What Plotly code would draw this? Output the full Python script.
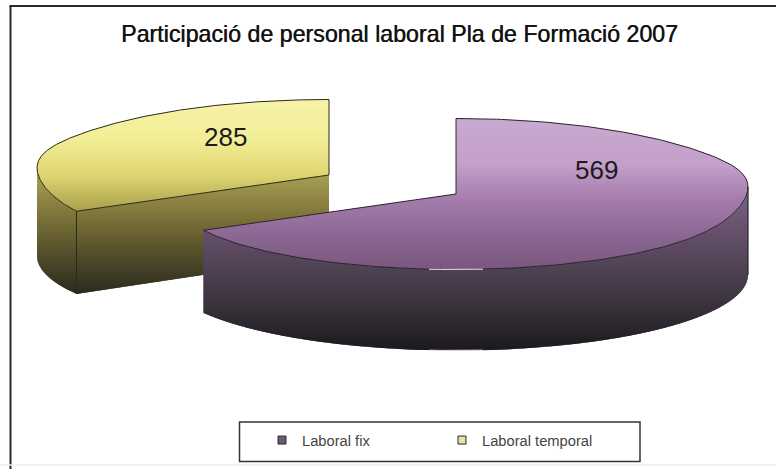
import numpy as np
import plotly.graph_objects as go

# ---- data ----
categories = ["Laboral fix", "Laboral temporal"]
values = [569, 285]
title_text = "Participació de personal laboral Pla de Formació 2007"

# ---- geometry / style (layout constants only) ----
W, H = 776, 469
RX, RY, DEPTH, BUMP = 292, 75.5, 81, 7
APEX = {"Laboral fix": (456, 194), "Laboral temporal": (329, 175)}
LABEL_POS = {"Laboral fix": (596, 170), "Laboral temporal": (225, 137)}
OUTLINE = {"Laboral fix": "#2e2230", "Laboral temporal": "#2b2a18"}
SWATCH = {"Laboral fix": "#6b5a70", "Laboral temporal": "#e6e2a8"}
TOP_STOPS = {
    "Laboral fix": ([118, 165, 200, 235, 269],
                    [(200, 170, 208), (196, 160, 202), (164, 124, 172), (140, 104, 148), (122, 88, 126)]),
    "Laboral temporal": ([98, 140, 175, 212],
                         [(247, 243, 170), (242, 238, 150), (222, 214, 112), (168, 158, 76)]),
}
SIDE_STOPS = {
    "Laboral fix": ([187, 232, 270, 310, 350],
                    [(124, 104, 132), (102, 80, 108), (78, 66, 82), (54, 48, 56), (28, 26, 30)]),
    "Laboral temporal": ([170, 212, 250, 295],
                         [(170, 164, 88), (130, 120, 60), (88, 82, 44), (40, 42, 30)]),
}


def rim(apex, deg, lifted=True):
    t = np.radians(deg)
    x = apex[0] + RX * np.sin(t)
    y = apex[1] - RY * np.cos(t)
    if lifted:
        y = y - BUMP * np.abs(np.sin(t)) ** 10
    return x, y


def clip(pts, y, keep_below):
    """Clip a polygon against a horizontal line."""
    out = []
    inside = (lambda p: p[1] >= y) if keep_below else (lambda p: p[1] <= y)
    for i, p in enumerate(pts):
        q = pts[(i + 1) % len(pts)]
        if inside(p):
            out.append(p)
        if inside(p) != inside(q):
            f = (y - p[1]) / (q[1] - p[1])
            out.append((p[0] + f * (q[0] - p[0]), y))
    return out


def gradient_traces(px, py, stops, step=2):
    out = []
    ys, cols = stops
    cols = np.array(cols, float)
    pts = list(zip(px, py))
    for y in np.arange(np.floor(min(py)), np.ceil(max(py)) + 1, step):
        band = clip(clip(pts, y, True), y + step + 1.5, False)
        if len(band) < 3:
            continue
        c = [int(np.interp(y + step / 2, ys, cols[:, k])) for k in range(3)]
        color = f"rgb({c[0]},{c[1]},{c[2]})"
        out.append(go.Scatter(x=[b[0] for b in band] + [band[0][0]], y=[b[1] for b in band] + [band[0][1]],
                              mode="lines", fill="toself", fillcolor=color, showlegend=False,
                              hoverinfo="skip", line=dict(width=0)))
    return out


def line(xs, ys, color, width=1.0):
    return go.Scatter(x=list(xs), y=list(ys), mode="lines", showlegend=False, hoverinfo="skip",
                      line=dict(color=color, width=width))


total = sum(values)
angles = np.cumsum([0] + values) / total * 360
slices = {c: (angles[i], angles[i + 1]) for i, c in enumerate(categories)}

fig = go.Figure()
labels = []

# draw back slice first
for cat in ["Laboral temporal", "Laboral fix"]:
    a0, a1 = slices[cat]
    ax, ay = APEX[cat]
    col = OUTLINE[cat]
    th = np.linspace(a0, a1, 241)
    tx, ty = rim((ax, ay), th)

    # front-facing walls
    if cat == "Laboral fix":
        wall_th = np.linspace(90, a1, 120)
        wx, wy = rim((ax, ay), wall_th)
        bx, by = rim((ax, ay + DEPTH), wall_th, lifted=False)
        px = list(wx) + list(bx[::-1])
        py = list(wy) + list(by[::-1])
        for tr in gradient_traces(px, py, SIDE_STOPS[cat]):
            fig.add_trace(tr)
    else:
        # cut face (apex to corner) and outer wall
        cx, cy = rim((ax, ay), a0)
        cbx, cby = rim((ax, ay + DEPTH), a0, lifted=False)
        px = [ax, cx, cbx, ax]
        py = [ay, cy, cby, ay + DEPTH]
        for tr in gradient_traces(px, py, SIDE_STOPS[cat]):
            fig.add_trace(tr)
        wall_th = np.linspace(a0, 270, 40)
        wx, wy = rim((ax, ay), wall_th)
        bx, by = rim((ax, ay + DEPTH), wall_th, lifted=False)
        px = list(wx) + list(bx[::-1])
        py = list(wy) + list(by[::-1])
        for tr in gradient_traces(px, py, SIDE_STOPS[cat]):
            fig.add_trace(tr)
        fig.add_trace(line([cx, cbx], [cy, cby], col))

    # top face
    px = [ax] + list(tx)
    py = [ay] + list(ty)
    for tr in gradient_traces(px, py, TOP_STOPS[cat]):
        fig.add_trace(tr)

    # outlines of the top face
    fig.add_trace(line(list(tx) + [ax, tx[0]], list(ty) + [ay, ty[0]], col))

    if cat == "Laboral fix":
        rx_, ry_ = rim((ax, ay), 90)
        bx_, by_ = rim((ax, ay + DEPTH), 90, lifted=False)
        fig.add_trace(line([rx_, bx_], [ry_, by_], "#2a2430", 1.2))
        # small highlights on the rim and on the base
        hl = np.linspace(174.7, 185.3, 20)
        for dy in (0, DEPTH):
            hx, hy = rim((ax, ay + dy), hl, lifted=False)
            fig.add_trace(line(hx, hy, "#f4eef4", 1.0))
    labels.append(dict(x=LABEL_POS[cat][0], y=LABEL_POS[cat][1], text=str(values[categories.index(cat)]),
                       showarrow=False, font=dict(family="Liberation Sans", size=26, color="#1c1a1c")))

# legend entries (real legend)
for cat in categories:
    fig.add_trace(go.Scatter(x=[None], y=[None], mode="markers", name=cat,
                             marker=dict(symbol="square", size=8, color=SWATCH[cat],
                                         line=dict(color="#2a2a2a", width=1))))

fig.update_layout(
    width=W, height=H, margin=dict(l=0, r=0, t=0, b=0),
    paper_bgcolor="white", plot_bgcolor="white",
    xaxis=dict(range=[0, W], visible=False, fixedrange=True),
    yaxis=dict(range=[H, 0], visible=False, fixedrange=True),
    annotations=labels + [
        dict(x=399, y=34, text=title_text, showarrow=False,
             font=dict(family="Liberation Sans", size=23.2, color="#111111",
                       shadow="0.5px 0 0.3px #333333")),
    ],
    shapes=[
        dict(type="line", x0=9.5, x1=W, y0=6, y1=6, line=dict(color="#2a2a2a", width=2)),
        dict(type="line", x0=10.5, x1=10.5, y0=6, y1=H, line=dict(color="#2a2a2a", width=2)),
        dict(type="line", x0=0, x1=W, y0=465, y1=465, line=dict(color="#eeeeee", width=1.5)),
        dict(type="rect", x0=239.5, x1=640, y0=422, y1=461.5, line=dict(color="#333333", width=1.5)),
    ],
    legend=dict(orientation="h", x=262 / W, xanchor="left", y=1 - 424 / H, yanchor="top",
                entrywidth=135, entrywidthmode="pixels", itemwidth=30, traceorder="normal",
                bgcolor="rgba(0,0,0,0)", font=dict(family="Liberation Sans", size=14.7, color="#444444")),
)
fig.write_html("out.html", config=dict(displayModeBar=False),
               post_script="document.body.style.margin='0';document.body.style.overflow='hidden';")
